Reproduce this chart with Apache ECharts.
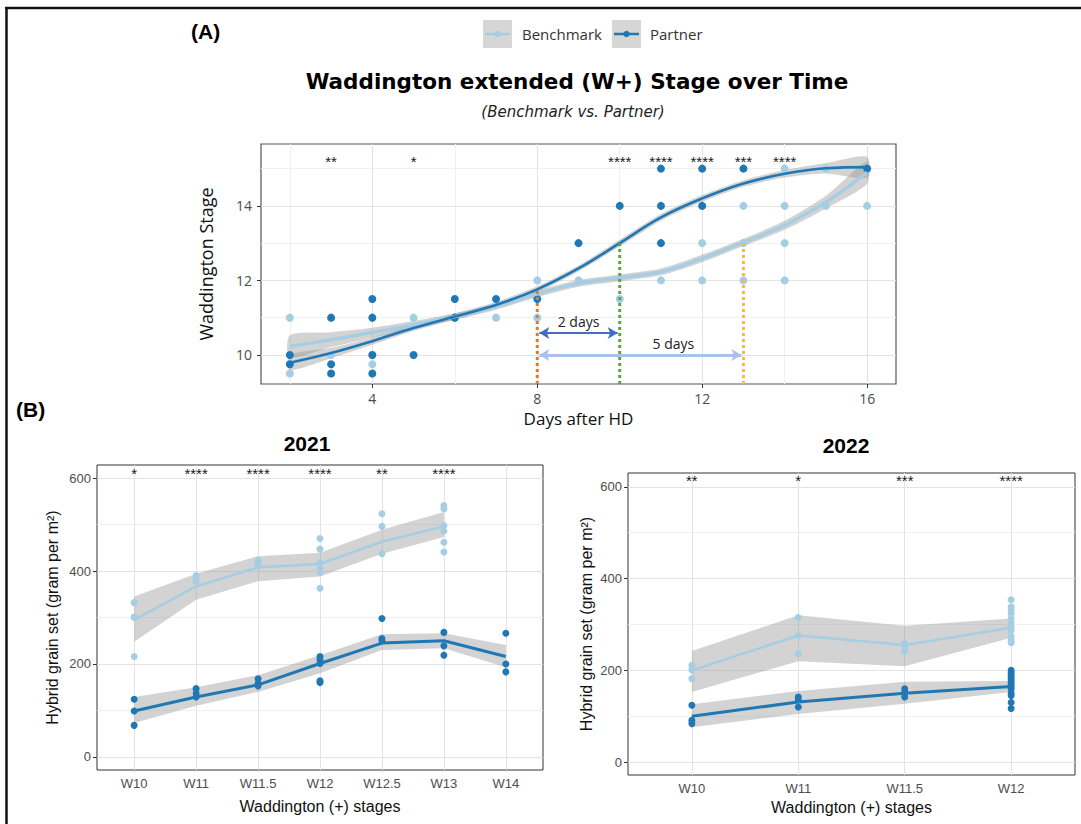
<!DOCTYPE html>
<html>
<head>
<meta charset="utf-8">
<script src="https://cdn.jsdelivr.net/npm/echarts@6/dist/echarts.min.js"></script>
<style>
  html, body { margin: 0; padding: 0; background: #ffffff; }
  #chart { width: 1081px; height: 824px; }
</style>
</head>
<body>
<div id="chart"></div>
<script>
// ---------- (A) Waddington stage over time ----------
const benchDays  = [2, 2, 2, 3, 4, 4, 5, 6, 7, 8, 8, 9, 10, 11, 12, 12, 12, 13, 13, 13, 14, 14, 14, 14, 15, 15, 16, 16];
const benchStage = [11, 9.5, 9.75, 10, 9.75, 10, 11, 11, 11, 12, 11, 12, 11.5, 12, 14, 13, 12, 14, 13, 12, 15, 14, 13, 12, 15, 14, 15, 14];
const partnerDays  = [2, 2, 3, 3, 3, 4, 4, 4, 4, 5, 6, 6, 7, 8, 9, 10, 11, 11, 11, 12, 12, 13, 16];
const partnerStage = [10, 9.75, 11, 9.75, 9.5, 11.5, 11, 10, 9.5, 10, 11.5, 11, 11.5, 11.5, 13, 14, 15, 14, 13, 15, 14, 15, 15];

// loess fits, with half width of the grey ribbon
const fitDays    = [2, 3, 4, 5, 6, 7, 8, 9, 10, 11, 12, 13, 14, 15, 16];
const benchFit   = [10.23, 10.41, 10.6, 10.81, 11.03, 11.3, 11.64, 11.92, 12.07, 12.23, 12.59, 13.02, 13.48, 14.1, 14.9];
const benchSe    = [0.3, 0.2, 0.13, 0.1, 0.09, 0.09, 0.09, 0.09, 0.09, 0.09, 0.1, 0.1, 0.12, 0.17, 0.3];
const partnerFit = [9.79, 10.05, 10.37, 10.72, 11.03, 11.34, 11.76, 12.32, 13.0, 13.69, 14.2, 14.6, 14.86, 15.01, 15.04];
const partnerSe  = [0.2, 0.14, 0.1, 0.08, 0.08, 0.08, 0.08, 0.08, 0.09, 0.09, 0.09, 0.09, 0.1, 0.14, 0.28];

const markerDays  = [8, 10, 13];
const markerStage = [11.76, 13.0, 13.02];
const markerColors = ['#e8772a', '#5aa83a', '#f3c51c'];

const sigDaysA   = [3, 5, 10, 11, 12, 13, 14];
const sigLabelsA = ['**', '*', '****', '****', '****', '***', '****'];

// ---------- (B) hybrid grain set ----------
const stages2021 = ['W10', 'W11', 'W11.5', 'W12', 'W12.5', 'W13', 'W14'];
const bench2021Pts = [
  [332, 301, 300, 216],
  [390, 383, 378],
  [423, 417, 411],
  [470, 447, 417, 397, 405, 363],
  [523, 496, 437],
  [541, 534, 498, 486, 462, 441],
  []
];
const bench2021Mean = [295, 367, 408, 415, 463, 496];
const bench2021Lo   = [248, 338, 378, 388, 437, 473];
const bench2021Hi   = [345, 394, 432, 439, 489, 527];
const partner2021Pts = [
  [124, 99, 68],
  [147, 137, 129],
  [168, 158, 153],
  [216, 209, 201, 164, 160],
  [298, 255, 250],
  [268, 239, 219],
  [266, 200, 183]
];
const partner2021Mean = [99, 129, 155, 201, 245, 250, 216];
const partner2021Lo   = [73, 110, 140, 180, 230, 234, 193];
const partner2021Hi   = [129, 150, 176, 219, 264, 266, 241];
const sig2021 = ['*', '****', '****', '****', '**', '****'];

const stages2022 = ['W10', 'W11', 'W11.5', 'W12'];
const bench2022Pts = [
  [211, 201, 182],
  [315, 276, 236],
  [258, 252, 242],
  [354, 338, 331, 324, 313, 303, 295, 287, 274, 265, 260]
];
const bench2022Mean = [200, 276, 255, 293];
const bench2022Lo   = [153, 220, 209, 271];
const bench2022Hi   = [242, 320, 297, 313];
const partner2022Pts = [
  [124, 91, 84],
  [142, 136, 120],
  [160, 153, 142],
  [200, 195, 190, 185, 180, 175, 170, 165, 160, 150, 145, 130, 117]
];
const partner2022Mean = [100, 131, 150, 165];
const partner2022Lo   = [76, 105, 127, 153];
const partner2022Hi   = [126, 155, 175, 177];
const sig2022 = ['**', '*', '***', '****'];

const LIGHT = '#a6cee3';
const DARK = '#1f78b4';
const BAND = 'rgba(150,150,150,0.42)';

const idx = (arr) => arr.map((_, i) => i + 1);

function pairs(xs, ys) {
  return xs.map((x, i) => [x, ys[i]]);
}
function flatPts(groups) {
  const out = [];
  groups.forEach((g, i) => g.forEach((v) => out.push([i + 1, v])));
  return out;
}

function bandSeries(gi, xs, lo, hi, smooth) {
  return {
    type: 'custom', xAxisIndex: gi, yAxisIndex: gi, silent: true, z: 2,
    data: xs.map((x, i) => [x, lo[i], hi[i]]),
    renderItem: function (params, api) {
      if (params.dataIndex !== 0) return;
      const pts = [];
      for (let i = 0; i < xs.length; i++) pts.push(api.coord([xs[i], hi[i]]));
      for (let i = xs.length - 1; i >= 0; i--) pts.push(api.coord([xs[i], lo[i]]));
      return {
        type: 'polygon',
        shape: { points: pts, smooth: smooth || 0 },
        style: { fill: BAND }
      };
    }
  };
}

function starSeries(gi, xs, y, labels, font) {
  return {
    type: 'custom', xAxisIndex: gi, yAxisIndex: gi, silent: true, z: 6,
    data: xs.map((x) => [x, y]),
    renderItem: function (params, api) {
      const p = api.coord([api.value(0), api.value(1)]);
      return {
        type: 'text', x: p[0], y: p[1],
        style: { text: labels[params.dataIndex], fill: '#1a1a1a', font: font, align: 'center', verticalAlign: 'middle' }
      };
    }
  };
}

function gridLines(gi, majorX, minorX, majorY, minorY) {
  const d = [];
  const major = { color: '#e3e3e3', width: 1, type: 'solid' };
  const minor = { color: '#f0f0f0', width: 1, type: 'solid' };
  minorX.forEach((v) => d.push({ xAxis: v, lineStyle: minor }));
  minorY.forEach((v) => d.push({ yAxis: v, lineStyle: minor }));
  majorX.forEach((v) => d.push({ xAxis: v, lineStyle: major }));
  majorY.forEach((v) => d.push({ yAxis: v, lineStyle: major }));
  return {
    type: 'line', xAxisIndex: gi, yAxisIndex: gi, data: [], z: 1, silent: true,
    markLine: { silent: true, z: 1, symbol: ['none', 'none'], label: { show: false }, animation: false, data: d }
  };
}

function scatter(gi, data, color, size) {
  return {
    type: 'scatter', xAxisIndex: gi, yAxisIndex: gi, data: data, symbolSize: size, z: 3,
    itemStyle: { color: color, opacity: 1 }
  };
}

function meanLine(gi, data, color, width, smooth) {
  return {
    type: 'line', xAxisIndex: gi, yAxisIndex: gi, data: data, smooth: smooth || false,
    showSymbol: false, z: 4, lineStyle: { color: color, width: width }
  };
}

const tickStyle = { show: true, length: 4, lineStyle: { color: '#333', width: 1 } };
const sansB = 'Liberation Sans';
const sansA = 'Open Sans';

function xAxisB(gi, cats) {
  const vals = idx(cats);
  return {
    type: 'value', gridIndex: gi, min: 0.4, max: cats.length + 0.6,
    name: 'Waddington (+) stages', nameLocation: 'middle', nameGap: gi === 1 ? 28 : 24,
    nameTextStyle: { fontFamily: sansB, fontSize: 16, color: '#111' },
    axisLine: { show: false }, splitLine: { show: false },
    axisTick: Object.assign({ customValues: vals }, tickStyle),
    axisLabel: {
      customValues: vals, margin: 7, color: '#4d4d4d', fontFamily: sansB, fontSize: 13,
      formatter: (v) => cats[Math.round(v) - 1]
    }
  };
}
function yAxisB(gi, min, max, gap) {
  return {
    type: 'value', gridIndex: gi, min: min, max: max,
    name: 'Hybrid grain set (gram per m²)', nameLocation: 'middle', nameGap: gap,
    nameTextStyle: { fontFamily: sansB, fontSize: 16, color: '#111' },
    axisLine: { show: false }, splitLine: { show: false },
    axisTick: Object.assign({ customValues: [0, 200, 400, 600] }, tickStyle),
    axisLabel: { customValues: [0, 200, 400, 600], margin: 6, color: '#4d4d4d', fontFamily: sansB, fontSize: 13 }
  };
}

const chart = echarts.init(document.getElementById('chart'), null, { renderer: 'svg' });

const option = {
  backgroundColor: '#ffffff',
  animation: false,
  title: [
    { text: 'Waddington extended (W+) Stage over Time', left: 577, top: 70, textAlign: 'center', padding: 0,
      textStyle: { fontFamily: 'DejaVu Sans', fontWeight: 'bold', fontSize: 21.5, color: '#000' } },
    { text: '(Benchmark vs. Partner)', left: 573, top: 104, textAlign: 'center', padding: 0,
      textStyle: { fontFamily: 'DejaVu Sans', fontStyle: 'italic', fontWeight: 'normal', fontSize: 15, color: '#222' } },
    { text: '(A)', left: 191, top: 21, padding: 0,
      textStyle: { fontFamily: sansB, fontWeight: 'bold', fontSize: 21, color: '#000' } },
    { text: '(B)', left: 16, top: 399, padding: 0,
      textStyle: { fontFamily: sansB, fontWeight: 'bold', fontSize: 21, color: '#000' } },
    { text: '2021', left: 307, top: 433, textAlign: 'center', padding: 0,
      textStyle: { fontFamily: sansB, fontWeight: 'bold', fontSize: 21, color: '#000' } },
    { text: '2022', left: 846, top: 435, textAlign: 'center', padding: 0,
      textStyle: { fontFamily: sansB, fontWeight: 'bold', fontSize: 21, color: '#000' } }
  ],
  grid: [
    { left: 261, top: 144, width: 635, height: 240, show: true, borderColor: '#555', borderWidth: 1.2, backgroundColor: 'transparent' },
    { left: 97, top: 465, width: 446, height: 305, show: true, borderColor: '#333', borderWidth: 1, backgroundColor: 'transparent' },
    { left: 628, top: 473, width: 447, height: 302, show: true, borderColor: '#333', borderWidth: 1, backgroundColor: 'transparent' }
  ],
  xAxis: [
    {
      type: 'value', gridIndex: 0, min: 1.3, max: 16.7,
      name: 'Days after HD', nameLocation: 'middle', nameGap: 26,
      nameTextStyle: { fontFamily: sansA, fontSize: 17, color: '#111' },
      axisLine: { show: false }, splitLine: { show: false },
      axisTick: Object.assign({ customValues: [4, 8, 12, 16] }, tickStyle),
      axisLabel: { customValues: [4, 8, 12, 16], margin: 7, color: '#4d4d4d', fontFamily: sansA, fontSize: 14 }
    },
    xAxisB(1, stages2021),
    xAxisB(2, stages2022)
  ],
  yAxis: [
    {
      type: 'value', gridIndex: 0, min: 9.22, max: 15.66,
      name: 'Waddington Stage', nameLocation: 'middle', nameGap: 46,
      nameTextStyle: { fontFamily: sansA, fontSize: 18, color: '#111' },
      axisLine: { show: false }, splitLine: { show: false },
      axisTick: Object.assign({ customValues: [10, 12, 14] }, tickStyle),
      axisLabel: { customValues: [10, 12, 14], margin: 9, color: '#4d4d4d', fontFamily: sansA, fontSize: 14 }
    },
    yAxisB(1, -28, 628, 37),
    yAxisB(2, -28, 630, 34)
  ],
  graphic: [
    // outer frame
    { type: 'line', shape: { x1: 5, y1: 8, x2: 1081, y2: 8 }, style: { stroke: '#111', lineWidth: 2.5 } },
    { type: 'line', shape: { x1: 6.5, y1: 8, x2: 6.5, y2: 824 }, style: { stroke: '#111', lineWidth: 2.5 } },
    // legend
    { type: 'rect', shape: { x: 483, y: 20, width: 29, height: 28 }, style: { fill: '#d6d6d6' } },
    { type: 'line', shape: { x1: 485, y1: 34, x2: 510, y2: 34 }, style: { stroke: LIGHT, lineWidth: 2.5 } },
    { type: 'circle', shape: { cx: 497.5, cy: 34, r: 3.2 }, style: { fill: LIGHT } },
    { type: 'text', x: 522, y: 34, style: { text: 'Benchmark', font: '15px "Open Sans"', fill: '#333', verticalAlign: 'middle' } },
    { type: 'rect', shape: { x: 612, y: 20, width: 29, height: 28 }, style: { fill: '#d6d6d6' } },
    { type: 'line', shape: { x1: 614, y1: 34, x2: 639, y2: 34 }, style: { stroke: DARK, lineWidth: 2.5 } },
    { type: 'circle', shape: { cx: 626.5, cy: 34, r: 3.2 }, style: { fill: DARK } },
    { type: 'text', x: 650, y: 34, style: { text: 'Partner', font: '15px "Open Sans"', fill: '#333', verticalAlign: 'middle' } }
  ],
  series: [
    // ---- panel A ----
    gridLines(0, [4, 8, 12, 16], [2, 6, 10, 14], [10, 12, 14], [11, 13, 15]),
    scatter(0, pairs(benchDays, benchStage), LIGHT, 8),
    scatter(0, pairs(partnerDays, partnerStage), DARK, 8),
    bandSeries(0, fitDays, benchFit.map((v, i) => v - benchSe[i]), benchFit.map((v, i) => v + benchSe[i]), 0.25),
    bandSeries(0, fitDays, partnerFit.map((v, i) => v - partnerSe[i]), partnerFit.map((v, i) => v + partnerSe[i]), 0.25),
    meanLine(0, pairs(fitDays, benchFit), LIGHT, 3.5, 0.4),
    meanLine(0, pairs(fitDays, partnerFit), DARK, 2.6, 0.4),
  ].concat(markerDays.map((d, i) => ({
    type: 'line', xAxisIndex: 0, yAxisIndex: 0, showSymbol: false, z: 5,
    data: [[d, 9.22], [d, markerStage[i]]],
    lineStyle: { color: markerColors[i], width: 3, type: [3, 3] }
  }))).concat([
    {
      type: 'line', xAxisIndex: 0, yAxisIndex: 0, data: [], z: 5,
      markLine: {
        silent: true, symbol: ['arrow', 'arrow'], symbolSize: [9, 10], label: { show: false }, animation: false,
        data: [
          [{ coord: [8.05, 10.59], lineStyle: { color: '#3f6fc4', width: 2, type: 'solid' } }, { coord: [9.95, 10.59] }],
          [{ coord: [8.05, 10.0], lineStyle: { color: '#a9c2ea', width: 3, type: 'solid' } }, { coord: [12.95, 10.0] }]
        ]
      }
    },
    {
      type: 'custom', xAxisIndex: 0, yAxisIndex: 0, silent: true, z: 6,
      data: [[9.0, 10.91, '2 days'], [11.3, 10.32, '5 days']],
      renderItem: function (params, api) {
        const p = api.coord([api.value(0), api.value(1)]);
        return {
          type: 'text', x: p[0], y: p[1],
          style: { text: api.value(2), fill: '#222', font: '14px "Open Sans"', align: 'center', verticalAlign: 'middle' }
        };
      }
    },
    starSeries(0, sigDaysA, 15.18, sigLabelsA, '15px "Liberation Sans"'),

    // ---- panel B 2021 ----
    gridLines(1, idx(stages2021), [], [0, 200, 400, 600], [100, 300, 500]),
    scatter(1, flatPts(bench2021Pts), LIGHT, 7),
    scatter(1, flatPts(partner2021Pts), DARK, 7),
    bandSeries(1, idx(bench2021Mean), bench2021Lo, bench2021Hi),
    bandSeries(1, idx(partner2021Mean), partner2021Lo, partner2021Hi),
    meanLine(1, pairs(idx(bench2021Mean), bench2021Mean), LIGHT, 2.5),
    meanLine(1, pairs(idx(partner2021Mean), partner2021Mean), DARK, 3),
    starSeries(1, idx(sig2021), 609, sig2021, '15px "Liberation Sans"'),

    // ---- panel B 2022 ----
    gridLines(2, idx(stages2022), [], [0, 200, 400, 600], [100, 300, 500]),
    scatter(2, flatPts(bench2022Pts), LIGHT, 7),
    scatter(2, flatPts(partner2022Pts), DARK, 7),
    bandSeries(2, idx(bench2022Mean), bench2022Lo, bench2022Hi),
    bandSeries(2, idx(partner2022Mean), partner2022Lo, partner2022Hi),
    meanLine(2, pairs(idx(bench2022Mean), bench2022Mean), LIGHT, 2.5),
    meanLine(2, pairs(idx(partner2022Mean), partner2022Mean), DARK, 3),
    starSeries(2, idx(sig2022), 613, sig2022, '15px "Liberation Sans"')
  ])
};

chart.setOption(option);
</script>
</body>
</html>
